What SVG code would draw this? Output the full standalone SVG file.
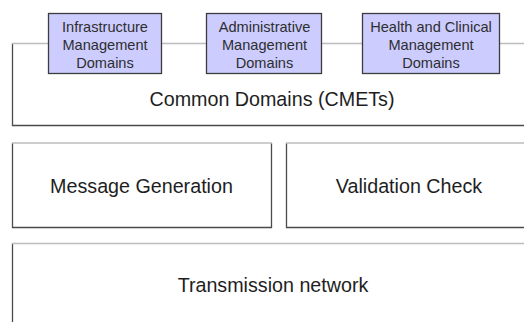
<svg xmlns="http://www.w3.org/2000/svg" width="524" height="322" viewBox="0 0 524 322">
  <style>
    .edge-dark { stroke: #4a4a4a; stroke-width: 1.3; fill: none; }
    .edge-light { stroke: #bdbdbd; stroke-width: 1.5; fill: none; }
    .domain { fill: #ccccff; stroke: #3c3c3c; stroke-width: 1.3; }
    .big { font-family: "Liberation Sans", Arial, sans-serif; font-size: 19.7px; fill: #1e1e1e; text-anchor: middle; }
    .small { font-family: "Liberation Sans", Arial, sans-serif; font-size: 14.6px; fill: #2e2e2e; text-anchor: middle; }
  </style>
  <rect width="524" height="322" fill="#ffffff"/>

  <!-- Common Domains layer: dark left/bottom edges, light top edge -->
  <g id="common-domains">
    <path class="edge-dark" d="M12.5 43.5 V125.5 H532"/>
    <text class="big" x="272" y="106">Common Domains (CMETs)</text>
  </g>

  <!-- light top rail linking the domain boxes -->
  <g id="connectors">
    <line class="edge-light" x1="12" y1="43.5" x2="532" y2="43.5"/>
  </g>

  <g id="infrastructure">
    <rect class="domain" x="48.5" y="13.5" width="113" height="60"/>
    <text class="small" x="105" y="31.5">Infrastructure</text>
    <text class="small" x="105" y="49.5">Management</text>
    <text class="small" x="105" y="67.5">Domains</text>
  </g>

  <g id="administrative">
    <rect class="domain" x="206.5" y="13.5" width="115" height="60"/>
    <text class="small" x="264.5" y="31.5">Administrative</text>
    <text class="small" x="264.5" y="49.5">Management</text>
    <text class="small" x="264.5" y="67.5">Domains</text>
  </g>

  <g id="health-clinical">
    <rect class="domain" x="362.5" y="13.5" width="137" height="60"/>
    <text class="small" x="431" y="31.5">Health and Clinical</text>
    <text class="small" x="431" y="49.5">Management</text>
    <text class="small" x="431" y="67.5">Domains</text>
  </g>

  <g id="message-generation">
    <path class="edge-dark" d="M12.5 143 V227.5 H271.5 V143"/>
    <line class="edge-light" x1="12" y1="143" x2="272" y2="143"/>
    <text class="big" x="141.5" y="192.5">Message Generation</text>
  </g>

  <g id="validation-check">
    <path class="edge-dark" d="M286.5 143 V227.5 H532"/>
    <line class="edge-light" x1="286" y1="143" x2="532" y2="143"/>
    <text class="big" x="409" y="192.5">Validation Check</text>
  </g>

  <g id="transmission-network">
    <path class="edge-dark" d="M12.5 243.5 V340"/>
    <line class="edge-light" x1="12" y1="243.5" x2="532" y2="243.5"/>
    <text class="big" x="273" y="291.5">Transmission network</text>
  </g>
</svg>
